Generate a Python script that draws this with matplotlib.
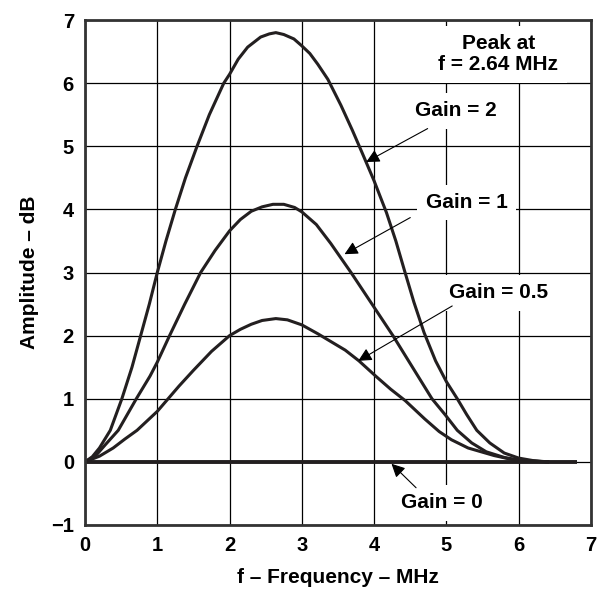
import matplotlib
matplotlib.use("Agg")
import matplotlib.pyplot as plt

plt.rcParams['font.family'] = ['Liberation Sans', 'DejaVu Sans']
plt.rcParams['font.weight'] = 'bold'

# values (f in MHz, amplitude in dB)
f_g2 = [0, 0.1, 0.2, 0.35, 0.51, 0.65, 0.77, 0.89, 1.0, 1.12, 1.25, 1.39, 1.55, 1.72, 1.92,
        2.0, 2.12, 2.25, 2.43, 2.55, 2.64, 2.75, 2.89, 3.0, 3.11, 3.22, 3.36, 3.54, 3.7, 3.84,
        4.0, 4.17, 4.3, 4.42, 4.55, 4.69, 4.85, 5.0, 5.15, 5.28, 5.42, 5.6, 5.8, 6.0, 6.2, 6.4]
a_g2 = [0, 0.08, 0.22, 0.5, 1.0, 1.5, 2.0, 2.5, 3.0, 3.5, 4.0, 4.5, 5.0, 5.5, 6.0,
        6.14, 6.38, 6.57, 6.73, 6.78, 6.8, 6.77, 6.7, 6.59, 6.47, 6.3, 6.06, 5.65, 5.25, 4.88,
        4.45, 3.95, 3.5, 3.03, 2.53, 2.05, 1.6, 1.27, 1.0, 0.75, 0.5, 0.3, 0.14, 0.06, 0.02, 0.0]

f_g1 = [0, 0.15, 0.28, 0.46, 0.71, 0.9, 1.0, 1.17, 1.38, 1.6, 1.8, 2.0, 2.15, 2.3, 2.45,
        2.6, 2.75, 2.9, 3.0, 3.2, 3.4, 3.68, 3.97, 4.26, 4.53, 4.8, 4.98, 5.15, 5.35, 5.55,
        5.8, 6.0, 6.2, 6.4]
a_g1 = [0, 0.1, 0.27, 0.5, 1.0, 1.36, 1.58, 2.0, 2.5, 3.0, 3.35, 3.66, 3.84, 3.97, 4.04,
        4.08, 4.08, 4.03, 3.96, 3.76, 3.46, 3.0, 2.5, 2.0, 1.5, 1.0, 0.75, 0.5, 0.3, 0.16,
        0.07, 0.03, 0.01, 0.0]

f_g05 = [0, 0.2, 0.39, 0.55, 0.72, 1.0, 1.15, 1.3, 1.5, 1.75, 2.0, 2.15, 2.3, 2.45, 2.64,
         2.8, 3.0, 3.22, 3.41, 3.6, 3.79, 4.03, 4.23, 4.43, 4.7, 4.9, 5.07, 5.3, 5.66, 5.9,
         6.1, 6.4]
a_g05 = [0, 0.09, 0.22, 0.36, 0.5, 0.8, 1.0, 1.2, 1.45, 1.75, 2.0, 2.1, 2.18, 2.24, 2.27,
         2.25, 2.17, 2.03, 1.9, 1.77, 1.6, 1.35, 1.15, 0.97, 0.68, 0.48, 0.35, 0.22, 0.1, 0.04,
         0.02, 0.0]

f_g0 = [0, 6.8]
a_g0 = [0, 0]

ink = '#231f20'

fig = plt.figure(figsize=(6, 5.92), dpi=100)
ax = fig.add_axes([85 / 600, 1 - 525 / 592, (591 - 85) / 600, (525 - 20) / 592])

for fx, ay in [(f_g2, a_g2), (f_g1, a_g1), (f_g05, a_g05)]:
    ax.plot(fx, ay, color=ink, lw=2.2, solid_joinstyle='round')
ax.plot(f_g0, a_g0, color=ink, lw=2.8, solid_capstyle='butt')

ax.set_xlim(0, 7)
ax.set_ylim(-1, 7)
ax.set_xticks(range(0, 8))
ax.set_yticks(range(-1, 8))
ax.set_yticklabels(['\u22121'] + [str(i) for i in range(0, 8)])
ax.grid(True, color='black', lw=0.9)
ax.tick_params(length=0, labelsize=14.5, pad=8)
for s in ax.spines.values():
    s.set_linewidth(2.0)
    s.set_color('#333333')

ax.set_xlabel('f \u2013 Frequency \u2013 MHz', fontsize=15, fontweight='bold', labelpad=9)
ax.set_ylabel('Amplitude \u2013 dB', fontsize=15, fontweight='bold', labelpad=9)

box = dict(boxstyle='square,pad=0.4', fc='white', ec='none')
arr = dict(arrowstyle='-|>', color='black', lw=0.8, mutation_scale=20, shrinkA=0, shrinkB=0)

ax.text(5.72, 6.46, 'Peak at\nf = 2.64 MHz', ha='center', va='center', fontsize=15,
        fontweight='bold', bbox=box, linespacing=1.15, zorder=3)

# (label, text centre, arrow start, arrow tip)
notes = [
    ('Gain = 2', (5.13, 5.56), (4.74, 5.28), (3.89, 4.75)),
    ('Gain = 1', (5.28, 4.11), (4.5, 3.87), (3.59, 3.29)),
    ('Gain = 0.5', (5.72, 2.68), (5.08, 2.47), (3.78, 1.6)),
    ('Gain = 0', (4.94, -0.65), (4.58, -0.41), (4.24, -0.03)),
]
for label, tpos, start, tip in notes:
    ax.text(tpos[0], tpos[1], label, ha='center', va='center', fontsize=15,
            fontweight='bold', bbox=box, zorder=3)
    ax.annotate('', xy=tip, xytext=start, arrowprops=arr, zorder=4)

fig.savefig('out.png', dpi=100)
